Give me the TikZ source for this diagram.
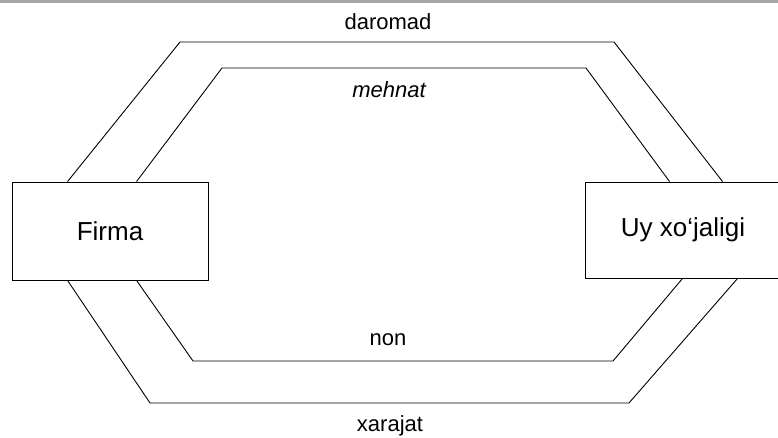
\documentclass[tikz,border=0pt]{standalone}
\usepackage{fontspec}
\setmainfont{Liberation Sans}
\usetikzlibrary{calc}
\begin{document}
\begin{tikzpicture}[x=1pt,y=-1pt,
  box/.style={draw, line width=0.9pt, inner sep=0pt, font=\fontsize{26}{30}\selectfont},
  flow/.style={draw, line width=0.9pt, line join=miter},
  lbl/.style={font=\fontsize{22}{26}\selectfont, inner sep=0pt}]
\useasboundingbox (0,0) rectangle (778,438);
\draw[gray!70, line width=2.5pt] (0,1.3) -- (778,1.3);
\node[box, minimum width=196pt, minimum height=98pt] (F) at (110,231) {Firma};
\node[box, minimum width=196pt, minimum height=96pt] (U) at (683,230) {Uy xo‘jaligi};
% anchor points on the boxes
\coordinate (Fto) at ($(F.north west)+(56,0)$);
\coordinate (Fti) at ($(F.north west)+(125,0)$);
\coordinate (Fbo) at ($(F.south west)+(56,0)$);
\coordinate (Fbi) at ($(F.south west)+(125,0)$);
\coordinate (Uti) at ($(U.north west)+(85,0)$);
\coordinate (Uto) at ($(U.north west)+(138,0)$);
\coordinate (Ubi) at ($(U.south west)+(98,0)$);
\coordinate (Ubo) at ($(U.south west)+(153,0)$);
% flows
\draw[flow] (Fto) -- (180,42) -- (614,42) -- (Uto);
\draw[flow] (Fti) -- (222,68) -- (586,68) -- (Uti);
\draw[flow] (Fbi) -- (193,361) -- (613,361) -- (Ubi);
\draw[flow] (Fbo) -- (150,403) -- (629,403) -- (Ubo);
% labels
\node[lbl] (daromad) at (388,22) {daromad};
\node[lbl, font=\fontsize{22}{26}\selectfont\itshape] (mehnat) at (389,90) {mehnat};
\node[lbl] (non) at (388,340) {non};
\node[lbl] (xarajat) at (390,426) {xarajat};
\end{tikzpicture}
\end{document}
